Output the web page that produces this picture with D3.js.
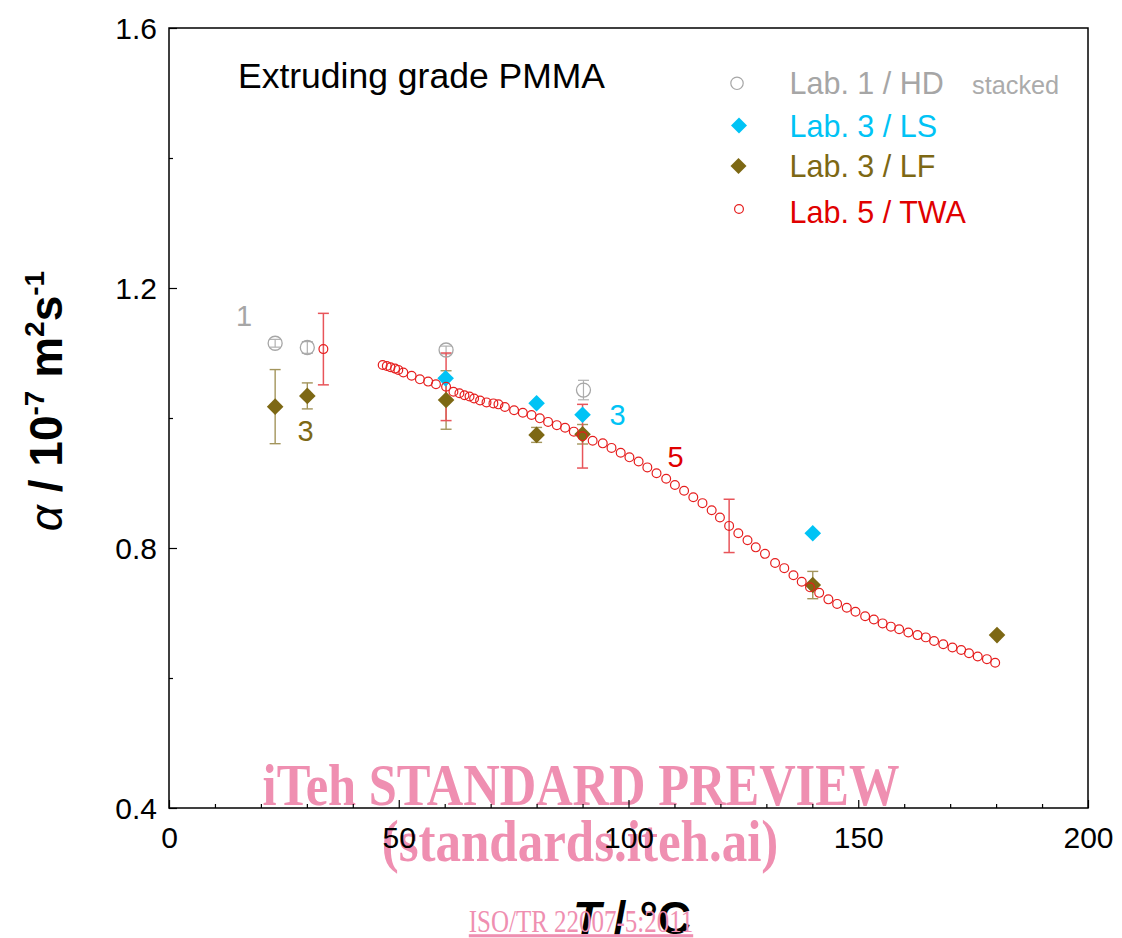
<!DOCTYPE html>
<html>
<head>
<meta charset="utf-8">
<script src="https://cdn.jsdelivr.net/npm/d3@7"></script>
<style>
html,body{margin:0;padding:0;background:#fff;}
svg{display:block;}
text{font-family:"Liberation Sans",Arial,sans-serif;}
</style>
</head>
<body>
<svg id="chart" width="1122" height="938"></svg>
<script>
// ---------- data ----------
const xMajorTicks = [0, 50, 100, 150, 200];
const xMinorTicks = [10,20,30,40,60,70,80,90,110,120,130,140,160,170,180,190];
const yMajorTicks = [0.4, 0.8, 1.2, 1.6];
const yMinorTicks = [0.6, 1.0, 1.4];

// Lab. 1 / HD
const hdT = [23.1, 30.1, 60.3, 90.2];
const hdA = [1.115, 1.1085, 1.1046, 1.043];
const hdE = [0.006, 0.009, 0.006, 0.015];

// Lab. 3 / LS
const lsT = [60.2, 80.0, 90.0, 140.1];
const lsA = [1.061, 1.0226, 1.005, 0.8226];

// Lab. 3 / LF
const lfT = [23.1, 30.1, 60.3, 80.0, 90.0, 140.1, 180.2];
const lfA = [1.0175, 1.034, 1.0277, 0.974, 0.975, 0.743, 0.666];
const lfE = [0.057, 0.02, 0.045, 0.0115, 0.015, 0.021, 0];

// Lab. 5 / TWA
const twaT = [33.6, 46.5, 47.4, 48.2, 49.2, 49.9, 51.0, 52.8, 54.6, 56.4, 58.1, 60.3, 61.9, 63.2, 64.3, 65.4, 66.4, 67.7, 69.1, 70.6, 71.7, 73.1, 75.1, 77.0, 78.9, 80.7, 82.5, 84.4, 86.2, 88.1, 90.0, 92.2, 94.4, 96.3, 98.3, 100.2, 102.2, 104.1, 106.1, 108.2, 110.1, 112.1, 114.1, 116.1, 118.1, 119.9, 121.9, 123.9, 125.9, 127.7, 129.7, 131.9, 133.9, 135.9, 137.7, 139.5, 141.5, 143.5, 145.4, 147.5, 149.4, 151.5, 153.4, 155.3, 157.1, 158.9, 160.9, 162.9, 164.7, 166.5, 168.5, 170.5, 172.4, 174.1, 176.0, 178.0, 179.8];
const twaA = [1.106, 1.0815, 1.080, 1.078, 1.076, 1.074, 1.070, 1.065, 1.0595, 1.056, 1.052, 1.048, 1.0405, 1.038, 1.035, 1.033, 1.030, 1.027, 1.024, 1.0225, 1.021, 1.017, 1.012, 1.008, 1.0046, 0.9995, 0.994, 0.989, 0.985, 0.979, 0.972, 0.965, 0.961, 0.954, 0.9466, 0.9395, 0.933, 0.924, 0.915, 0.9066, 0.897, 0.888, 0.878, 0.869, 0.858, 0.847, 0.834, 0.8226, 0.812, 0.801, 0.791, 0.777, 0.769, 0.758, 0.748, 0.7395, 0.731, 0.721, 0.714, 0.708, 0.702, 0.695, 0.690, 0.684, 0.679, 0.675, 0.670, 0.666, 0.6625, 0.657, 0.652, 0.647, 0.643, 0.638, 0.633, 0.629, 0.6235];
const twaBarT = [33.6, 60.3, 90.0, 121.9];
const twaBarA = [1.106, 1.048, 0.972, 0.834];
const twaBarE = [0.055, 0.052, 0.049, 0.041];

const legendLabels = ["Lab. 1 / HD", "Lab. 3 / LS", "Lab. 3 / LF", "Lab. 5 / TWA"];

// ---------- styles ----------
const C = {
  gray: "#a6a6a6", grayBar: "#b0b0b0",
  cyan: "#00c3f5",
  olive: "#7d6814", oliveBar: "#a3955c",
  red: "#e61e1e", redBar: "#e8555a", redText: "#e00000",
  wm: "#ef8fb1"
};
const serif = "'Liberation Serif','Times New Roman',serif";

const svg = d3.select("#chart");
const L = 169, R = 1088, T = 28, B = 808;
const x = d3.scaleLinear().domain([0, 200]).range([L, R]);
const y = d3.scaleLinear().domain([0.4, 1.6]).range([B, T]);

// ---------- watermark (behind) ----------
svg.append("text").attr("transform", "translate(581,805) scale(1.01,1.2)").attr("text-anchor", "middle")
  .attr("font-size", 50).attr("font-weight", "bold").attr("fill", C.wm).style("font-family", serif)
  .text("iTeh STANDARD PREVIEW");
svg.append("text").attr("transform", "translate(580,861) scale(1.02,1.2)").attr("text-anchor", "middle")
  .attr("font-size", 50).attr("font-weight", "bold").attr("fill", C.wm).style("font-family", serif)
  .text("(standards.iteh.ai)");

// ---------- axes ----------
const axisFont = 30;
const gx = svg.append("g").attr("transform", `translate(0,${B})`)
  .call(d3.axisBottom(x).tickValues(xMajorTicks).tickSize(-8).tickPadding(19).tickFormat(d3.format("d")));
const gxm = svg.append("g").attr("transform", `translate(0,${B})`)
  .call(d3.axisBottom(x).tickValues(xMinorTicks).tickSize(-4).tickFormat(""));
const gy = svg.append("g").attr("transform", `translate(${L},0)`)
  .call(d3.axisLeft(y).tickValues(yMajorTicks).tickSize(-8).tickPadding(12).tickFormat(d3.format(".1f")));
const gym = svg.append("g").attr("transform", `translate(${L},0)`)
  .call(d3.axisLeft(y).tickValues(yMinorTicks).tickSize(-4).tickFormat(""));
[gx, gxm, gy, gym].forEach(g => {
  g.select(".domain").remove();
  g.selectAll("line").attr("stroke", "#000").attr("stroke-width", 1.2);
  g.selectAll("text").attr("font-size", axisFont).attr("fill", "#000")
    .style("font-family", "'Liberation Sans',Arial,sans-serif");
});
gy.selectAll("text").attr("dy", "0.34em");

svg.append("rect").attr("x", L).attr("y", T).attr("width", R - L).attr("height", B - T)
  .attr("fill", "none").attr("stroke", "#000").attr("stroke-width", 1.5);

// axis titles
const yt = svg.append("text").attr("transform", "translate(62,401) rotate(-90)")
  .attr("text-anchor", "middle").attr("font-size", 46).attr("font-weight", "bold").attr("fill", "#000");
yt.append("tspan").attr("font-style", "italic").attr("font-weight", "normal").text("α");
yt.append("tspan").text(" / 10");
yt.append("tspan").attr("font-size", 28).attr("dy", -18).text("-7");
yt.append("tspan").attr("dy", 18).text(" m");
yt.append("tspan").attr("font-size", 28).attr("dy", -18).text("2");
yt.append("tspan").attr("dy", 18).text("s");
yt.append("tspan").attr("font-size", 28).attr("dy", -18).text("-1");

const xt = svg.append("text").attr("x", 632).attr("y", 934).attr("text-anchor", "middle")
  .attr("font-size", 46).attr("font-weight", "bold").attr("fill", "#000");
xt.append("tspan").attr("font-style", "italic").text("T");
xt.append("tspan").text(" / °C");

// ---------- error bars ----------
function errBars(Ts, As, Es, color, width) {
  const g = svg.append("g").attr("stroke", color).attr("stroke-width", width || 1.4).attr("fill", "none");
  Ts.forEach((t, i) => {
    const e = Es[i];
    if (!e) return;
    const cx = x(t), y1 = y(As[i] + e), y2 = y(As[i] - e);
    g.append("line").attr("x1", cx).attr("x2", cx).attr("y1", y1).attr("y2", y2);
    g.append("line").attr("x1", cx - 5.5).attr("x2", cx + 5.5).attr("y1", y1).attr("y2", y1);
    g.append("line").attr("x1", cx - 5.5).attr("x2", cx + 5.5).attr("y1", y2).attr("y2", y2);
  });
}
errBars(hdT, hdA, hdE, C.grayBar, 1.2);
errBars(lfT, lfA, lfE, C.oliveBar, 1.4);
errBars(twaBarT, twaBarA, twaBarE, C.redBar, 1.5);

// ---------- markers ----------
const diamond = s => `M0,${-s}L${s},0L0,${s}L${-s},0Z`;

svg.append("g").selectAll("circle").data(hdT).join("circle")
  .attr("cx", d => x(d)).attr("cy", (d, i) => y(hdA[i])).attr("r", 7)
  .attr("fill", "none").attr("stroke", C.gray).attr("stroke-width", 1.3);

svg.append("g").selectAll("path").data(lsT).join("path")
  .attr("d", diamond(8.3)).attr("transform", (d, i) => `translate(${x(d)},${y(lsA[i])})`)
  .attr("fill", C.cyan);

svg.append("g").selectAll("path").data(lfT).join("path")
  .attr("d", diamond(8.3)).attr("transform", (d, i) => `translate(${x(d)},${y(lfA[i])})`)
  .attr("fill", C.olive);

svg.append("g").selectAll("circle").data(twaT).join("circle")
  .attr("cx", d => x(d)).attr("cy", (d, i) => y(twaA[i])).attr("r", 4.4)
  .attr("fill", "none").attr("stroke", C.red).attr("stroke-width", 1.2);

// ---------- annotations ----------
svg.append("text").attr("x", 238).attr("y", 88).attr("font-size", 35.5).attr("fill", "#000")
  .text("Extruding grade PMMA");
const ann = [
  {t: "1", x: 244, y: 326, c: C.gray},
  {t: "3", x: 305.5, y: 441, c: C.olive},
  {t: "3", x: 617.5, y: 425, c: C.cyan},
  {t: "5", x: 675.5, y: 467, c: C.redText}
];
ann.forEach(a => svg.append("text").attr("x", a.x).attr("y", a.y).attr("text-anchor", "middle")
  .attr("font-size", 29).attr("fill", a.c).text(a.t));

// ---------- legend ----------
const lg = svg.append("g");
const rowsY = [94.3, 137.3, 177.3, 222.7];
const rowColors = [C.gray, C.cyan, C.olive, C.redText];
lg.append("circle").attr("cx", 737).attr("cy", 83.3).attr("r", 6.2).attr("fill", "none").attr("stroke", C.gray).attr("stroke-width", 1.2);
lg.append("path").attr("d", diamond(8)).attr("transform", "translate(739,125.5)").attr("fill", C.cyan);
lg.append("path").attr("d", diamond(8)).attr("transform", "translate(738.5,166)").attr("fill", C.olive);
lg.append("circle").attr("cx", 739).attr("cy", 209).attr("r", 4.4).attr("fill", "none").attr("stroke", C.red).attr("stroke-width", 1.2);
legendLabels.forEach((s, i) => lg.append("text").attr("x", 789.5).attr("y", rowsY[i])
  .attr("font-size", 30.5).attr("fill", rowColors[i]).text(s));
lg.append("text").attr("x", 972).attr("y", 94.3).attr("font-size", 25.3).attr("fill", "#ababab").text("stacked");

// ---------- watermark (front) ----------
svg.append("text").attr("transform", "translate(581,932) scale(1.04,1.3)").attr("text-anchor", "middle")
  .attr("font-size", 24).attr("fill", C.wm).attr("text-decoration", "underline")
  .style("font-family", serif)
  .text("ISO/TR 22007-5:2011");
</script>
</body>
</html>
